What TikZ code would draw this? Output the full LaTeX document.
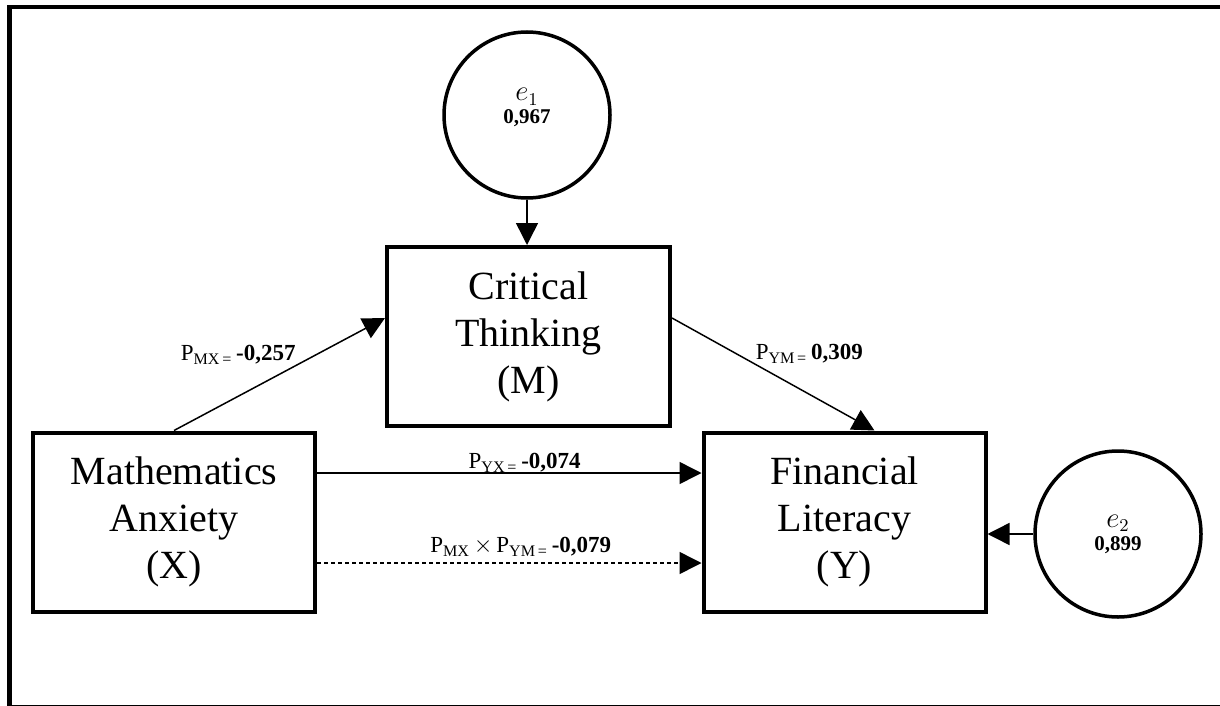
\documentclass[tikz,border=0pt]{standalone}
\usepackage{fontspec}
\setmainfont{Liberation Serif}
\usepackage{tikz}
\usetikzlibrary{arrows.meta}

\newcommand{\errlabel}[2]{{\fontsize{13.5}{11.5}\selectfont$e_{#1}$}\\\textbf{#2}}

\begin{document}
\begin{tikzpicture}[x=0.5pt, y=-0.5pt,
  var/.style={draw, line width=2pt, minimum width=141pt, minimum height=89.5pt, align=center, font=\fontsize{20}{23.5}\selectfont},
  err/.style={circle, draw, line width=1.75pt, minimum size=83pt, inner sep=0pt, align=center, font=\fontsize{10.5}{11.5}\selectfont},
  effect/.style={-{Triangle[length=11pt, width=11pt]}, line width=0.75pt},
  coef/.style={inner sep=0pt, font=\fontsize{11.5}{12}\selectfont}]
\useasboundingbox (0,0) rectangle (1220,706);
\clip (0,0) rectangle (1220,706);
% outer frame (right side runs off the page)
\draw[line width=2.25pt] (9.5,7) rectangle (1240,707);

% variables
\node[var, minimum width=141.5pt] (M) at (528.5,336.5) {Critical\\Thinking\\(M)};
\node[var] (X) at (174,522) {Mathematics\\Anxiety\\(X)};
\node[var] (Y) at (844.5,522) {Financial\\Literacy\\(Y)};

% error terms
\node[err, text depth=9pt] (e1) at (527,115) {\errlabel{1}{0,967}};
\node[err] (e2) at (1118,534) {\errlabel{2}{0,899}};

\draw[effect] (e1.south) -- (e1.south |- M.north);
\draw[effect] (e2.west) -- (e2.west -| Y.east);

% paths
\draw[effect] (X.north) -- ([yshift=9.25pt]M.west)
  node[coef, pos=0.58, above left] {P\textsubscript{MX\,=}\,\textbf{-0,257}};
\draw[effect] ([yshift=9.25pt]M.east) -- ([xshift=15pt]Y.north)
  node[coef, pos=0.41, above right] {P\textsubscript{YM\,=}\,\textbf{0,309}};
\draw[effect] ([yshift=24.5pt]X.east) -- ([yshift=24.5pt]Y.west)
  node[coef, pos=0.54, above] {P\textsubscript{YX\,=}\,\textbf{-0,074}};
\draw[effect, dash pattern=on 2pt off 1.5pt] ([yshift=-20.5pt]X.east) -- ([yshift=-20.5pt]Y.west)
  node[coef, pos=0.53, above=3pt] {P\textsubscript{MX}\,$\times$\,P\textsubscript{YM\,=}\,\textbf{-0,079}};
\end{tikzpicture}
\end{document}
